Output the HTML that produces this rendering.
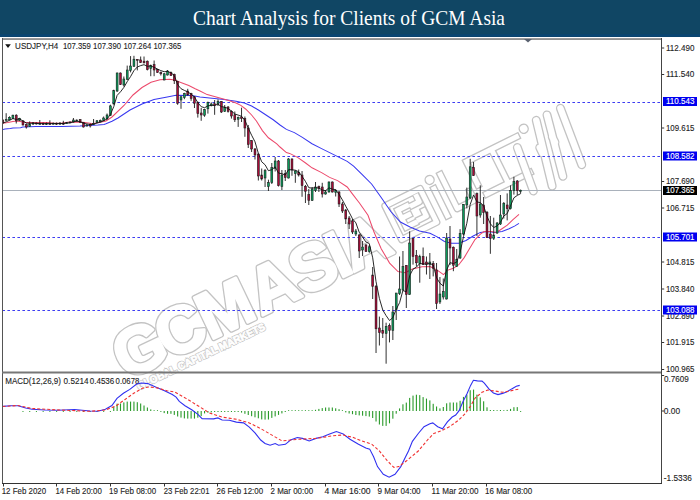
<!DOCTYPE html><html><head><meta charset="utf-8"><style>html,body{margin:0;padding:0;background:#fff;width:700px;height:500px;overflow:hidden}svg{display:block}</style></head><body>
<svg width="700" height="500" viewBox="0 0 700 500">
<rect x="0" y="0" width="700" height="500" fill="#ffffff"/>
<rect x="0" y="0" width="700" height="37" fill="#104664"/>
<rect x="0" y="34.2" width="700" height="2.6" fill="#0a4673"/>
<text x="193" y="24.6" font-family="'Liberation Serif', serif" font-size="20.6" fill="#ffffff" textLength="312" lengthAdjust="spacingAndGlyphs">Chart Analysis for Clients of GCM Asia</text>
<defs><clipPath id="cmain"><rect x="3" y="39" width="658" height="332.5"/></clipPath>
<clipPath id="cmacd"><rect x="3" y="373.5" width="658" height="109.5"/></clipPath></defs>
<g transform="translate(213.2,337.8) rotate(-25.5)" fill="none" stroke="#c3c3c3" stroke-width="1.4" stroke-linejoin="round">
<text x="-97.1 -50.4 -4.4 52.9 98.9 139.4 154.0" y="1" font-family="'Liberation Sans', sans-serif" font-weight="bold" font-size="66" stroke-width="5.2">GCMASIA</text>
<text x="-97.1 -50.4 -4.4 52.9 98.9 139.4 154.0" y="1" font-family="'Liberation Sans', sans-serif" font-weight="bold" font-size="66" stroke="#ffffff" fill="#ffffff" stroke-width="2.6">GCMASIA</text>
</g>
<g transform="translate(241.7,320.8) rotate(-25.3)" fill="none" stroke="#c3c3c3" stroke-width="1.4" stroke-linejoin="round">
<g transform="rotate(-1.1 176 0)">
<path d="M179.5,-5 H218.5 V-42.5 H179.5 Z M189,-14 H199 M189,-24 H197 M189,-33 H199 M189,-14 V-33 M204,-15 H212 V-21 M204,-31 H212 V-37 M231,-36 V-6 M243,-46 V-8 H262 V-18 M272,-46 H328 M300,-46 V-8 M276,-8 H324 M272,-46 V-20" stroke="#c3c3c3" stroke-width="7.5" stroke-linecap="square"/>
<path d="M179.5,-5 H218.5 V-42.5 H179.5 Z M189,-14 H199 M189,-24 H197 M189,-33 H199 M189,-14 V-33 M204,-15 H212 V-21 M204,-31 H212 V-37 M231,-36 V-6 M243,-46 V-8 H262 V-18 M272,-46 H328 M300,-46 V-8 M276,-8 H324 M272,-46 V-20" stroke="#ffffff" stroke-width="4.9" stroke-linecap="square"/>
<path d="M324,-36 L319,10 M353,-52 L338,14 M365,-52 L352,10 M380,-52 L374,8 M344,-20 V-26 M360,-24 V-30" stroke="#c3c3c3" stroke-width="9" stroke-linecap="round"/><path d="M324,-36 L319,10 M353,-52 L338,14 M365,-52 L352,10 M380,-52 L374,8 M344,-20 V-26 M360,-24 V-30" stroke="#ffffff" stroke-width="6.4" stroke-linecap="round"/>
<circle cx="231" cy="-46" r="4.5" stroke="#c3c3c3" stroke-width="1.4"/>
<circle cx="338" cy="-50" r="4.5" stroke="#c3c3c3" stroke-width="1.4"/>
</g>
</g>
<g transform="translate(124.9,374.5) rotate(-25.5)"><text x="6" y="20" font-family="'Liberation Sans', sans-serif" font-weight="bold" font-size="10.5" fill="#ffffff" stroke="#c3c3c3" stroke-width="2.1" textLength="141" lengthAdjust="spacingAndGlyphs">GLOBAL CAPITAL MARKETS</text><text x="6" y="20" font-family="'Liberation Sans', sans-serif" font-weight="bold" font-size="10.5" fill="#ffffff" stroke="#ffffff" stroke-width="0.7" textLength="141" lengthAdjust="spacingAndGlyphs">GLOBAL CAPITAL MARKETS</text></g>
<line x1="3" y1="102.5" x2="661" y2="102.5" stroke="#3c3cf2" stroke-width="1" stroke-dasharray="2.6,2.4" stroke-dashoffset="0.6"/>
<line x1="3" y1="156.5" x2="661" y2="156.5" stroke="#3c3cf2" stroke-width="1" stroke-dasharray="2.6,2.4" stroke-dashoffset="0.6"/>
<line x1="3" y1="237.5" x2="661" y2="237.5" stroke="#3c3cf2" stroke-width="1" stroke-dasharray="2.6,2.4" stroke-dashoffset="0.6"/>
<line x1="3" y1="310.5" x2="661" y2="310.5" stroke="#3c3cf2" stroke-width="1" stroke-dasharray="2.6,2.4" stroke-dashoffset="0.6"/>
<line x1="3" y1="190.5" x2="661" y2="190.5" stroke="#a9b1bb" stroke-width="1"/>
<g clip-path="url(#cmain)">
<polyline points="2.6,129.6 5.0,129.0 10.3,128.4 13.0,128.0 20.6,127.8 22.7,126.9 36.0,126.5 45.0,126.4 62.0,126.4 80.0,126.0 98.0,125.1 104.0,124.4 106.0,123.8 112.0,121.3 118.0,118.0 130.0,110.0 142.0,104.0 154.0,99.5 166.0,97.2 176.0,95.2 192.0,95.5 200.0,97.0 212.0,98.2 224.0,99.4 236.0,101.2 244.4,103.0 251.6,106.0 258.8,110.2 266.0,115.0 273.2,119.8 280.0,125.0 286.4,129.4 294.4,132.6 302.4,137.4 312.0,143.8 321.6,148.6 331.2,153.4 339.2,157.4 347.2,161.4 353.6,166.2 362.0,174.4 371.6,184.0 381.2,197.5 390.8,211.5 400.4,222.0 410.0,227.0 419.5,231.0 430.0,233.3 437.2,236.9 444.4,241.4 451.6,243.2 458.8,243.2 466.0,240.5 473.2,236.0 480.4,232.4 487.6,231.5 494.7,232.4 502.0,231.5 509.1,228.8 514.5,226.1 519.0,223.4" fill="none" stroke="#3838f0" stroke-width="1.05"/>
<polyline points="2.6,123.2 7.7,122.4 12.9,121.4 17.0,121.1 21.6,121.7 25.8,122.4 36.0,122.4 48.0,122.6 54.0,123.2 62.0,123.1 69.7,122.1 80.0,122.1 85.0,122.6 93.0,123.7 98.0,122.4 104.0,121.6 106.0,121.0 112.0,117.0 124.0,105.5 133.0,95.0 142.0,87.5 151.0,82.2 160.0,79.8 169.6,79.2 174.4,80.0 180.8,82.4 188.8,85.6 195.2,88.8 200.0,91.0 207.2,94.6 218.0,97.6 228.8,100.6 236.0,103.0 240.8,105.4 245.6,109.0 251.6,115.0 256.4,121.0 262.4,130.6 268.4,137.8 276.8,143.8 280.0,147.0 286.4,152.6 289.6,153.4 297.6,157.4 305.6,163.0 312.0,167.8 321.6,172.6 329.6,177.4 337.6,180.6 347.2,187.0 352.0,193.4 359.6,203.2 368.0,215.2 374.0,232.0 381.2,248.7 389.6,263.1 398.0,271.5 405.2,272.7 412.4,269.1 422.0,266.7 430.0,266.5 437.2,270.1 443.5,274.6 448.0,270.1 453.4,268.3 458.8,264.7 464.2,257.6 469.6,248.6 475.0,239.6 480.4,234.2 484.0,231.5 491.2,231.5 496.5,232.4 502.0,228.8 507.3,225.2 512.7,219.8 519.0,214.4" fill="none" stroke="#ec4a6c" stroke-width="1.05"/>
<line x1="2.80" y1="119.5" x2="2.80" y2="123.5" stroke="#1a1a1a" stroke-width="0.9"/>
<rect x="1.85" y="120.0" width="1.9" height="3.0" fill="#a80c38" stroke="#1a1a1a" stroke-width="0.55"/>
<line x1="6.16" y1="113.2" x2="6.16" y2="120.4" stroke="#1a1a1a" stroke-width="0.9"/>
<rect x="5.21" y="119.5" width="1.9" height="1.0" fill="#0a9a5a" stroke="#1a1a1a" stroke-width="0.55"/>
<line x1="9.52" y1="116.3" x2="9.52" y2="120.4" stroke="#1a1a1a" stroke-width="0.9"/>
<rect x="8.57" y="117.3" width="1.9" height="2.6" fill="#0a9a5a" stroke="#1a1a1a" stroke-width="0.55"/>
<line x1="12.89" y1="114.7" x2="12.89" y2="118.8" stroke="#1a1a1a" stroke-width="0.9"/>
<rect x="11.94" y="115.2" width="1.9" height="3.1" fill="#0a9a5a" stroke="#1a1a1a" stroke-width="0.55"/>
<line x1="16.25" y1="114.2" x2="16.25" y2="123.5" stroke="#1a1a1a" stroke-width="0.9"/>
<rect x="15.30" y="115.2" width="1.9" height="5.7" fill="#a80c38" stroke="#1a1a1a" stroke-width="0.55"/>
<line x1="19.61" y1="117.8" x2="19.61" y2="120.9" stroke="#1a1a1a" stroke-width="0.9"/>
<rect x="18.66" y="118.3" width="1.9" height="2.1" fill="#0a9a5a" stroke="#1a1a1a" stroke-width="0.55"/>
<line x1="22.97" y1="120.4" x2="22.97" y2="125.5" stroke="#1a1a1a" stroke-width="0.9"/>
<rect x="22.02" y="120.9" width="1.9" height="4.1" fill="#a80c38" stroke="#1a1a1a" stroke-width="0.55"/>
<line x1="26.34" y1="123.5" x2="26.34" y2="128.6" stroke="#1a1a1a" stroke-width="0.9"/>
<rect x="25.39" y="124.5" width="1.9" height="2.5" fill="#a80c38" stroke="#1a1a1a" stroke-width="0.55"/>
<line x1="29.70" y1="121.4" x2="29.70" y2="127.0" stroke="#1a1a1a" stroke-width="0.9"/>
<rect x="28.75" y="124.0" width="1.9" height="2.6" fill="#0a9a5a" stroke="#1a1a1a" stroke-width="0.55"/>
<line x1="33.06" y1="122.0" x2="33.06" y2="125.0" stroke="#1a1a1a" stroke-width="0.9"/>
<rect x="32.11" y="123.0" width="1.9" height="1.0" fill="#0a9a5a" stroke="#1a1a1a" stroke-width="0.55"/>
<line x1="36.42" y1="122.5" x2="36.42" y2="124.5" stroke="#1a1a1a" stroke-width="0.9"/>
<rect x="35.47" y="123.0" width="1.9" height="1.0" fill="#a80c38" stroke="#1a1a1a" stroke-width="0.55"/>
<line x1="39.79" y1="120.0" x2="39.79" y2="124.5" stroke="#1a1a1a" stroke-width="0.9"/>
<rect x="38.84" y="123.5" width="1.9" height="1.0" fill="#0a9a5a" stroke="#1a1a1a" stroke-width="0.55"/>
<line x1="43.15" y1="122.5" x2="43.15" y2="125.0" stroke="#1a1a1a" stroke-width="0.9"/>
<rect x="42.20" y="123.5" width="1.9" height="1.0" fill="#a80c38" stroke="#1a1a1a" stroke-width="0.55"/>
<line x1="46.51" y1="122.5" x2="46.51" y2="125.0" stroke="#1a1a1a" stroke-width="0.9"/>
<rect x="45.56" y="123.5" width="1.9" height="1.0" fill="#0a9a5a" stroke="#1a1a1a" stroke-width="0.55"/>
<line x1="49.87" y1="120.3" x2="49.87" y2="124.5" stroke="#1a1a1a" stroke-width="0.9"/>
<rect x="48.92" y="123.5" width="1.9" height="1.0" fill="#a80c38" stroke="#1a1a1a" stroke-width="0.55"/>
<line x1="53.24" y1="122.5" x2="53.24" y2="124.5" stroke="#1a1a1a" stroke-width="0.9"/>
<rect x="52.29" y="123.2" width="1.9" height="1.0" fill="#0a9a5a" stroke="#1a1a1a" stroke-width="0.55"/>
<line x1="56.60" y1="122.5" x2="56.60" y2="125.0" stroke="#1a1a1a" stroke-width="0.9"/>
<rect x="55.65" y="123.2" width="1.9" height="1.0" fill="#a80c38" stroke="#1a1a1a" stroke-width="0.55"/>
<line x1="59.96" y1="122.0" x2="59.96" y2="124.5" stroke="#1a1a1a" stroke-width="0.9"/>
<rect x="59.01" y="123.2" width="1.9" height="1.0" fill="#0a9a5a" stroke="#1a1a1a" stroke-width="0.55"/>
<line x1="63.32" y1="120.8" x2="63.32" y2="125.0" stroke="#1a1a1a" stroke-width="0.9"/>
<rect x="62.37" y="123.2" width="1.9" height="1.0" fill="#a80c38" stroke="#1a1a1a" stroke-width="0.55"/>
<line x1="66.69" y1="122.0" x2="66.69" y2="123.5" stroke="#1a1a1a" stroke-width="0.9"/>
<rect x="65.74" y="122.5" width="1.9" height="1.0" fill="#0a9a5a" stroke="#1a1a1a" stroke-width="0.55"/>
<line x1="70.05" y1="121.5" x2="70.05" y2="123.0" stroke="#1a1a1a" stroke-width="0.9"/>
<rect x="69.10" y="122.0" width="1.9" height="1.0" fill="#0a9a5a" stroke="#1a1a1a" stroke-width="0.55"/>
<line x1="73.41" y1="118.0" x2="73.41" y2="122.5" stroke="#1a1a1a" stroke-width="0.9"/>
<rect x="72.46" y="120.0" width="1.9" height="2.0" fill="#0a9a5a" stroke="#1a1a1a" stroke-width="0.55"/>
<line x1="76.77" y1="119.5" x2="76.77" y2="121.5" stroke="#1a1a1a" stroke-width="0.9"/>
<rect x="75.82" y="120.0" width="1.9" height="1.0" fill="#0a9a5a" stroke="#1a1a1a" stroke-width="0.55"/>
<line x1="80.14" y1="119.3" x2="80.14" y2="122.8" stroke="#1a1a1a" stroke-width="0.9"/>
<rect x="79.19" y="119.5" width="1.9" height="2.9" fill="#a80c38" stroke="#1a1a1a" stroke-width="0.55"/>
<line x1="83.50" y1="122.0" x2="83.50" y2="127.5" stroke="#1a1a1a" stroke-width="0.9"/>
<rect x="82.55" y="122.4" width="1.9" height="4.6" fill="#a80c38" stroke="#1a1a1a" stroke-width="0.55"/>
<line x1="86.86" y1="124.0" x2="86.86" y2="126.5" stroke="#1a1a1a" stroke-width="0.9"/>
<rect x="85.91" y="125.0" width="1.9" height="1.0" fill="#0a9a5a" stroke="#1a1a1a" stroke-width="0.55"/>
<line x1="90.22" y1="123.4" x2="90.22" y2="127.5" stroke="#1a1a1a" stroke-width="0.9"/>
<rect x="89.27" y="124.5" width="1.9" height="1.5" fill="#a80c38" stroke="#1a1a1a" stroke-width="0.55"/>
<line x1="93.59" y1="119.0" x2="93.59" y2="124.6" stroke="#1a1a1a" stroke-width="0.9"/>
<rect x="92.64" y="123.5" width="1.9" height="1.0" fill="#0a9a5a" stroke="#1a1a1a" stroke-width="0.55"/>
<line x1="96.95" y1="120.0" x2="96.95" y2="122.8" stroke="#1a1a1a" stroke-width="0.9"/>
<rect x="96.00" y="120.8" width="1.9" height="1.6" fill="#0a9a5a" stroke="#1a1a1a" stroke-width="0.55"/>
<line x1="100.31" y1="119.5" x2="100.31" y2="122.2" stroke="#1a1a1a" stroke-width="0.9"/>
<rect x="99.36" y="120.5" width="1.9" height="1.3" fill="#0a9a5a" stroke="#1a1a1a" stroke-width="0.55"/>
<line x1="103.67" y1="116.5" x2="103.67" y2="121.0" stroke="#1a1a1a" stroke-width="0.9"/>
<rect x="102.72" y="118.0" width="1.9" height="2.5" fill="#0a9a5a" stroke="#1a1a1a" stroke-width="0.55"/>
<line x1="107.04" y1="113.5" x2="107.04" y2="119.5" stroke="#1a1a1a" stroke-width="0.9"/>
<rect x="106.09" y="115.0" width="1.9" height="4.0" fill="#0a9a5a" stroke="#1a1a1a" stroke-width="0.55"/>
<line x1="110.40" y1="104.7" x2="110.40" y2="115.8" stroke="#1a1a1a" stroke-width="0.9"/>
<rect x="109.45" y="105.9" width="1.9" height="9.5" fill="#0a9a5a" stroke="#1a1a1a" stroke-width="0.55"/>
<line x1="113.76" y1="89.7" x2="113.76" y2="104.5" stroke="#1a1a1a" stroke-width="0.9"/>
<rect x="112.81" y="90.5" width="1.9" height="13.5" fill="#0a9a5a" stroke="#1a1a1a" stroke-width="0.55"/>
<line x1="117.12" y1="72.5" x2="117.12" y2="92.0" stroke="#1a1a1a" stroke-width="0.9"/>
<rect x="116.17" y="73.0" width="1.9" height="18.0" fill="#0a9a5a" stroke="#1a1a1a" stroke-width="0.55"/>
<line x1="120.49" y1="72.5" x2="120.49" y2="85.0" stroke="#1a1a1a" stroke-width="0.9"/>
<rect x="119.54" y="73.0" width="1.9" height="11.6" fill="#a80c38" stroke="#1a1a1a" stroke-width="0.55"/>
<line x1="123.85" y1="76.5" x2="123.85" y2="86.5" stroke="#1a1a1a" stroke-width="0.9"/>
<rect x="122.90" y="79.0" width="1.9" height="6.0" fill="#0a9a5a" stroke="#1a1a1a" stroke-width="0.55"/>
<line x1="127.21" y1="65.6" x2="127.21" y2="80.0" stroke="#1a1a1a" stroke-width="0.9"/>
<rect x="126.26" y="70.0" width="1.9" height="9.3" fill="#0a9a5a" stroke="#1a1a1a" stroke-width="0.55"/>
<line x1="130.57" y1="56.1" x2="130.57" y2="72.4" stroke="#1a1a1a" stroke-width="0.9"/>
<rect x="129.62" y="66.0" width="1.9" height="4.4" fill="#0a9a5a" stroke="#1a1a1a" stroke-width="0.55"/>
<line x1="133.94" y1="55.8" x2="133.94" y2="66.8" stroke="#1a1a1a" stroke-width="0.9"/>
<rect x="132.99" y="59.2" width="1.9" height="7.1" fill="#0a9a5a" stroke="#1a1a1a" stroke-width="0.55"/>
<line x1="137.30" y1="59.2" x2="137.30" y2="70.4" stroke="#1a1a1a" stroke-width="0.9"/>
<rect x="136.35" y="59.3" width="1.9" height="1.0" fill="#a80c38" stroke="#1a1a1a" stroke-width="0.55"/>
<line x1="140.66" y1="56.5" x2="140.66" y2="63.0" stroke="#1a1a1a" stroke-width="0.9"/>
<rect x="139.71" y="59.9" width="1.9" height="2.7" fill="#a80c38" stroke="#1a1a1a" stroke-width="0.55"/>
<line x1="144.03" y1="56.5" x2="144.03" y2="63.3" stroke="#1a1a1a" stroke-width="0.9"/>
<rect x="143.08" y="61.2" width="1.9" height="1.7" fill="#a80c38" stroke="#1a1a1a" stroke-width="0.55"/>
<line x1="147.39" y1="60.5" x2="147.39" y2="70.4" stroke="#1a1a1a" stroke-width="0.9"/>
<rect x="146.44" y="61.2" width="1.9" height="8.5" fill="#a80c38" stroke="#1a1a1a" stroke-width="0.55"/>
<line x1="150.75" y1="64.6" x2="150.75" y2="76.2" stroke="#1a1a1a" stroke-width="0.9"/>
<rect x="149.80" y="65.3" width="1.9" height="3.4" fill="#0a9a5a" stroke="#1a1a1a" stroke-width="0.55"/>
<line x1="154.11" y1="60.5" x2="154.11" y2="76.2" stroke="#1a1a1a" stroke-width="0.9"/>
<rect x="153.16" y="64.6" width="1.9" height="5.4" fill="#a80c38" stroke="#1a1a1a" stroke-width="0.55"/>
<line x1="157.47" y1="69.0" x2="157.47" y2="72.8" stroke="#1a1a1a" stroke-width="0.9"/>
<rect x="156.53" y="69.7" width="1.9" height="2.7" fill="#a80c38" stroke="#1a1a1a" stroke-width="0.55"/>
<line x1="160.84" y1="71.5" x2="160.84" y2="75.5" stroke="#1a1a1a" stroke-width="0.9"/>
<rect x="159.89" y="72.4" width="1.9" height="1.4" fill="#a80c38" stroke="#1a1a1a" stroke-width="0.55"/>
<line x1="164.20" y1="73.0" x2="164.20" y2="80.3" stroke="#1a1a1a" stroke-width="0.9"/>
<rect x="163.25" y="73.8" width="1.9" height="6.2" fill="#0a9a5a" stroke="#1a1a1a" stroke-width="0.55"/>
<line x1="167.56" y1="70.0" x2="167.56" y2="75.5" stroke="#1a1a1a" stroke-width="0.9"/>
<rect x="166.61" y="71.0" width="1.9" height="4.0" fill="#0a9a5a" stroke="#1a1a1a" stroke-width="0.55"/>
<line x1="170.93" y1="71.5" x2="170.93" y2="76.0" stroke="#1a1a1a" stroke-width="0.9"/>
<rect x="169.98" y="72.5" width="1.9" height="3.0" fill="#a80c38" stroke="#1a1a1a" stroke-width="0.55"/>
<line x1="174.29" y1="73.6" x2="174.29" y2="84.0" stroke="#1a1a1a" stroke-width="0.9"/>
<rect x="173.34" y="74.4" width="1.9" height="6.4" fill="#a80c38" stroke="#1a1a1a" stroke-width="0.55"/>
<line x1="177.65" y1="80.8" x2="177.65" y2="104.8" stroke="#1a1a1a" stroke-width="0.9"/>
<rect x="176.70" y="81.6" width="1.9" height="21.6" fill="#a80c38" stroke="#1a1a1a" stroke-width="0.55"/>
<line x1="181.01" y1="96.0" x2="181.01" y2="108.8" stroke="#1a1a1a" stroke-width="0.9"/>
<rect x="180.06" y="96.8" width="1.9" height="3.2" fill="#0a9a5a" stroke="#1a1a1a" stroke-width="0.55"/>
<line x1="184.38" y1="92.8" x2="184.38" y2="99.2" stroke="#1a1a1a" stroke-width="0.9"/>
<rect x="183.43" y="93.6" width="1.9" height="4.0" fill="#0a9a5a" stroke="#1a1a1a" stroke-width="0.55"/>
<line x1="187.74" y1="88.8" x2="187.74" y2="95.5" stroke="#1a1a1a" stroke-width="0.9"/>
<rect x="186.79" y="91.0" width="1.9" height="4.0" fill="#a80c38" stroke="#1a1a1a" stroke-width="0.55"/>
<line x1="191.10" y1="92.8" x2="191.10" y2="100.8" stroke="#1a1a1a" stroke-width="0.9"/>
<rect x="190.15" y="93.6" width="1.9" height="4.8" fill="#a80c38" stroke="#1a1a1a" stroke-width="0.55"/>
<line x1="194.46" y1="96.0" x2="194.46" y2="108.0" stroke="#1a1a1a" stroke-width="0.9"/>
<rect x="193.51" y="96.8" width="1.9" height="6.4" fill="#a80c38" stroke="#1a1a1a" stroke-width="0.55"/>
<line x1="197.82" y1="101.6" x2="197.82" y2="117.6" stroke="#1a1a1a" stroke-width="0.9"/>
<rect x="196.88" y="102.4" width="1.9" height="11.2" fill="#a80c38" stroke="#1a1a1a" stroke-width="0.55"/>
<line x1="201.19" y1="108.0" x2="201.19" y2="120.8" stroke="#1a1a1a" stroke-width="0.9"/>
<rect x="200.24" y="113.0" width="1.9" height="2.0" fill="#a80c38" stroke="#1a1a1a" stroke-width="0.55"/>
<line x1="204.55" y1="108.8" x2="204.55" y2="116.8" stroke="#1a1a1a" stroke-width="0.9"/>
<rect x="203.60" y="109.6" width="1.9" height="5.6" fill="#0a9a5a" stroke="#1a1a1a" stroke-width="0.55"/>
<line x1="207.91" y1="101.6" x2="207.91" y2="113.6" stroke="#1a1a1a" stroke-width="0.9"/>
<rect x="206.96" y="102.4" width="1.9" height="6.4" fill="#0a9a5a" stroke="#1a1a1a" stroke-width="0.55"/>
<line x1="211.28" y1="102.4" x2="211.28" y2="106.4" stroke="#1a1a1a" stroke-width="0.9"/>
<rect x="210.33" y="104.0" width="1.9" height="1.6" fill="#0a9a5a" stroke="#1a1a1a" stroke-width="0.55"/>
<line x1="214.64" y1="100.0" x2="214.64" y2="114.8" stroke="#1a1a1a" stroke-width="0.9"/>
<rect x="213.69" y="103.8" width="1.9" height="1.7" fill="#a80c38" stroke="#1a1a1a" stroke-width="0.55"/>
<line x1="218.00" y1="99.4" x2="218.00" y2="106.0" stroke="#1a1a1a" stroke-width="0.9"/>
<rect x="217.05" y="101.6" width="1.9" height="2.2" fill="#0a9a5a" stroke="#1a1a1a" stroke-width="0.55"/>
<line x1="221.36" y1="101.0" x2="221.36" y2="113.0" stroke="#1a1a1a" stroke-width="0.9"/>
<rect x="220.41" y="101.6" width="1.9" height="10.4" fill="#a80c38" stroke="#1a1a1a" stroke-width="0.55"/>
<line x1="224.72" y1="105.0" x2="224.72" y2="112.0" stroke="#1a1a1a" stroke-width="0.9"/>
<rect x="223.78" y="107.7" width="1.9" height="3.8" fill="#0a9a5a" stroke="#1a1a1a" stroke-width="0.55"/>
<line x1="228.09" y1="106.0" x2="228.09" y2="112.6" stroke="#1a1a1a" stroke-width="0.9"/>
<rect x="227.14" y="107.0" width="1.9" height="4.5" fill="#a80c38" stroke="#1a1a1a" stroke-width="0.55"/>
<line x1="231.45" y1="110.4" x2="231.45" y2="118.6" stroke="#1a1a1a" stroke-width="0.9"/>
<rect x="230.50" y="111.5" width="1.9" height="4.5" fill="#a80c38" stroke="#1a1a1a" stroke-width="0.55"/>
<line x1="234.81" y1="111.5" x2="234.81" y2="122.0" stroke="#1a1a1a" stroke-width="0.9"/>
<rect x="233.86" y="114.8" width="1.9" height="5.0" fill="#a80c38" stroke="#1a1a1a" stroke-width="0.55"/>
<line x1="238.18" y1="116.5" x2="238.18" y2="126.9" stroke="#1a1a1a" stroke-width="0.9"/>
<rect x="237.23" y="117.5" width="1.9" height="1.7" fill="#0a9a5a" stroke="#1a1a1a" stroke-width="0.55"/>
<line x1="241.54" y1="107.7" x2="241.54" y2="122.0" stroke="#1a1a1a" stroke-width="0.9"/>
<rect x="240.59" y="117.0" width="1.9" height="1.6" fill="#a80c38" stroke="#1a1a1a" stroke-width="0.55"/>
<line x1="244.90" y1="116.5" x2="244.90" y2="136.8" stroke="#1a1a1a" stroke-width="0.9"/>
<rect x="243.95" y="118.6" width="1.9" height="9.4" fill="#a80c38" stroke="#1a1a1a" stroke-width="0.55"/>
<line x1="248.26" y1="125.0" x2="248.26" y2="148.0" stroke="#1a1a1a" stroke-width="0.9"/>
<rect x="247.31" y="128.0" width="1.9" height="16.5" fill="#a80c38" stroke="#1a1a1a" stroke-width="0.55"/>
<line x1="251.62" y1="140.0" x2="251.62" y2="152.0" stroke="#1a1a1a" stroke-width="0.9"/>
<rect x="250.68" y="140.7" width="1.9" height="8.3" fill="#a80c38" stroke="#1a1a1a" stroke-width="0.55"/>
<line x1="254.99" y1="148.0" x2="254.99" y2="159.5" stroke="#1a1a1a" stroke-width="0.9"/>
<rect x="254.04" y="149.0" width="1.9" height="6.0" fill="#a80c38" stroke="#1a1a1a" stroke-width="0.55"/>
<line x1="258.35" y1="153.5" x2="258.35" y2="180.5" stroke="#1a1a1a" stroke-width="0.9"/>
<rect x="257.40" y="154.0" width="1.9" height="22.0" fill="#a80c38" stroke="#1a1a1a" stroke-width="0.55"/>
<line x1="261.71" y1="168.5" x2="261.71" y2="180.5" stroke="#1a1a1a" stroke-width="0.9"/>
<rect x="260.76" y="175.0" width="1.9" height="4.0" fill="#a80c38" stroke="#1a1a1a" stroke-width="0.55"/>
<line x1="265.07" y1="169.0" x2="265.07" y2="187.0" stroke="#1a1a1a" stroke-width="0.9"/>
<rect x="264.12" y="170.7" width="1.9" height="7.3" fill="#0a9a5a" stroke="#1a1a1a" stroke-width="0.55"/>
<line x1="268.44" y1="179.7" x2="268.44" y2="191.0" stroke="#1a1a1a" stroke-width="0.9"/>
<rect x="267.49" y="182.7" width="1.9" height="3.8" fill="#0a9a5a" stroke="#1a1a1a" stroke-width="0.55"/>
<line x1="271.80" y1="163.0" x2="271.80" y2="184.0" stroke="#1a1a1a" stroke-width="0.9"/>
<rect x="270.85" y="167.7" width="1.9" height="15.0" fill="#0a9a5a" stroke="#1a1a1a" stroke-width="0.55"/>
<line x1="275.16" y1="157.0" x2="275.16" y2="171.5" stroke="#1a1a1a" stroke-width="0.9"/>
<rect x="274.21" y="161.0" width="1.9" height="7.5" fill="#0a9a5a" stroke="#1a1a1a" stroke-width="0.55"/>
<line x1="278.52" y1="160.0" x2="278.52" y2="186.5" stroke="#1a1a1a" stroke-width="0.9"/>
<rect x="277.57" y="161.0" width="1.9" height="24.7" fill="#a80c38" stroke="#1a1a1a" stroke-width="0.55"/>
<line x1="281.89" y1="170.0" x2="281.89" y2="190.0" stroke="#1a1a1a" stroke-width="0.9"/>
<rect x="280.94" y="175.0" width="1.9" height="11.5" fill="#0a9a5a" stroke="#1a1a1a" stroke-width="0.55"/>
<line x1="285.25" y1="170.0" x2="285.25" y2="181.0" stroke="#1a1a1a" stroke-width="0.9"/>
<rect x="284.30" y="173.7" width="1.9" height="3.8" fill="#a80c38" stroke="#1a1a1a" stroke-width="0.55"/>
<line x1="288.61" y1="158.0" x2="288.61" y2="178.5" stroke="#1a1a1a" stroke-width="0.9"/>
<rect x="287.66" y="159.0" width="1.9" height="19.0" fill="#0a9a5a" stroke="#1a1a1a" stroke-width="0.55"/>
<line x1="291.98" y1="158.3" x2="291.98" y2="175.8" stroke="#1a1a1a" stroke-width="0.9"/>
<rect x="291.03" y="159.0" width="1.9" height="11.0" fill="#a80c38" stroke="#1a1a1a" stroke-width="0.55"/>
<line x1="295.34" y1="170.2" x2="295.34" y2="182.8" stroke="#1a1a1a" stroke-width="0.9"/>
<rect x="294.39" y="171.0" width="1.9" height="2.7" fill="#0a9a5a" stroke="#1a1a1a" stroke-width="0.55"/>
<line x1="298.70" y1="169.5" x2="298.70" y2="176.5" stroke="#1a1a1a" stroke-width="0.9"/>
<rect x="297.75" y="172.3" width="1.9" height="2.7" fill="#a80c38" stroke="#1a1a1a" stroke-width="0.55"/>
<line x1="302.06" y1="171.0" x2="302.06" y2="196.8" stroke="#1a1a1a" stroke-width="0.9"/>
<rect x="301.11" y="175.0" width="1.9" height="10.6" fill="#a80c38" stroke="#1a1a1a" stroke-width="0.55"/>
<line x1="305.43" y1="185.0" x2="305.43" y2="203.0" stroke="#1a1a1a" stroke-width="0.9"/>
<rect x="304.48" y="186.3" width="1.9" height="4.9" fill="#a80c38" stroke="#1a1a1a" stroke-width="0.55"/>
<line x1="308.79" y1="189.0" x2="308.79" y2="205.0" stroke="#1a1a1a" stroke-width="0.9"/>
<rect x="307.84" y="194.7" width="1.9" height="5.6" fill="#a80c38" stroke="#1a1a1a" stroke-width="0.55"/>
<line x1="312.15" y1="187.0" x2="312.15" y2="201.0" stroke="#1a1a1a" stroke-width="0.9"/>
<rect x="311.20" y="189.0" width="1.9" height="11.3" fill="#0a9a5a" stroke="#1a1a1a" stroke-width="0.55"/>
<line x1="315.51" y1="182.0" x2="315.51" y2="192.0" stroke="#1a1a1a" stroke-width="0.9"/>
<rect x="314.56" y="187.0" width="1.9" height="3.5" fill="#0a9a5a" stroke="#1a1a1a" stroke-width="0.55"/>
<line x1="318.88" y1="185.6" x2="318.88" y2="192.0" stroke="#1a1a1a" stroke-width="0.9"/>
<rect x="317.93" y="186.5" width="1.9" height="2.0" fill="#a80c38" stroke="#1a1a1a" stroke-width="0.55"/>
<line x1="322.24" y1="182.8" x2="322.24" y2="197.5" stroke="#1a1a1a" stroke-width="0.9"/>
<rect x="321.29" y="187.0" width="1.9" height="7.0" fill="#a80c38" stroke="#1a1a1a" stroke-width="0.55"/>
<line x1="325.60" y1="190.0" x2="325.60" y2="194.7" stroke="#1a1a1a" stroke-width="0.9"/>
<rect x="324.65" y="192.0" width="1.9" height="2.0" fill="#0a9a5a" stroke="#1a1a1a" stroke-width="0.55"/>
<line x1="328.96" y1="181.4" x2="328.96" y2="192.6" stroke="#1a1a1a" stroke-width="0.9"/>
<rect x="328.01" y="182.0" width="1.9" height="10.0" fill="#0a9a5a" stroke="#1a1a1a" stroke-width="0.55"/>
<line x1="332.32" y1="181.4" x2="332.32" y2="192.6" stroke="#1a1a1a" stroke-width="0.9"/>
<rect x="331.38" y="182.0" width="1.9" height="10.0" fill="#a80c38" stroke="#1a1a1a" stroke-width="0.55"/>
<line x1="335.69" y1="189.5" x2="335.69" y2="196.5" stroke="#1a1a1a" stroke-width="0.9"/>
<rect x="334.74" y="190.5" width="1.9" height="2.0" fill="#0a9a5a" stroke="#1a1a1a" stroke-width="0.55"/>
<line x1="339.05" y1="191.0" x2="339.05" y2="207.0" stroke="#1a1a1a" stroke-width="0.9"/>
<rect x="338.10" y="192.0" width="1.9" height="12.0" fill="#a80c38" stroke="#1a1a1a" stroke-width="0.55"/>
<line x1="342.41" y1="202.0" x2="342.41" y2="213.0" stroke="#1a1a1a" stroke-width="0.9"/>
<rect x="341.46" y="204.0" width="1.9" height="7.0" fill="#a80c38" stroke="#1a1a1a" stroke-width="0.55"/>
<line x1="345.77" y1="209.0" x2="345.77" y2="224.0" stroke="#1a1a1a" stroke-width="0.9"/>
<rect x="344.82" y="210.0" width="1.9" height="9.0" fill="#a80c38" stroke="#1a1a1a" stroke-width="0.55"/>
<line x1="349.14" y1="216.0" x2="349.14" y2="229.0" stroke="#1a1a1a" stroke-width="0.9"/>
<rect x="348.19" y="218.0" width="1.9" height="6.0" fill="#a80c38" stroke="#1a1a1a" stroke-width="0.55"/>
<line x1="352.50" y1="219.0" x2="352.50" y2="234.0" stroke="#1a1a1a" stroke-width="0.9"/>
<rect x="351.55" y="221.0" width="1.9" height="11.0" fill="#a80c38" stroke="#1a1a1a" stroke-width="0.55"/>
<line x1="355.86" y1="229.0" x2="355.86" y2="236.0" stroke="#1a1a1a" stroke-width="0.9"/>
<rect x="354.91" y="231.0" width="1.9" height="3.0" fill="#0a9a5a" stroke="#1a1a1a" stroke-width="0.55"/>
<line x1="359.22" y1="234.0" x2="359.22" y2="258.0" stroke="#1a1a1a" stroke-width="0.9"/>
<rect x="358.27" y="235.0" width="1.9" height="16.0" fill="#a80c38" stroke="#1a1a1a" stroke-width="0.55"/>
<line x1="362.59" y1="241.0" x2="362.59" y2="256.0" stroke="#1a1a1a" stroke-width="0.9"/>
<rect x="361.64" y="247.0" width="1.9" height="3.0" fill="#0a9a5a" stroke="#1a1a1a" stroke-width="0.55"/>
<line x1="365.95" y1="244.0" x2="365.95" y2="252.0" stroke="#1a1a1a" stroke-width="0.9"/>
<rect x="365.00" y="245.0" width="1.9" height="6.5" fill="#a80c38" stroke="#1a1a1a" stroke-width="0.55"/>
<line x1="369.31" y1="245.0" x2="369.31" y2="252.8" stroke="#1a1a1a" stroke-width="0.9"/>
<rect x="368.36" y="246.8" width="1.9" height="4.8" fill="#0a9a5a" stroke="#1a1a1a" stroke-width="0.55"/>
<line x1="372.68" y1="267.0" x2="372.68" y2="299.0" stroke="#1a1a1a" stroke-width="0.9"/>
<rect x="371.73" y="275.0" width="1.9" height="11.4" fill="#a80c38" stroke="#1a1a1a" stroke-width="0.55"/>
<line x1="376.04" y1="285.0" x2="376.04" y2="353.0" stroke="#1a1a1a" stroke-width="0.9"/>
<rect x="375.09" y="286.4" width="1.9" height="42.4" fill="#a80c38" stroke="#1a1a1a" stroke-width="0.55"/>
<line x1="379.40" y1="316.6" x2="379.40" y2="345.5" stroke="#1a1a1a" stroke-width="0.9"/>
<rect x="378.45" y="328.0" width="1.9" height="4.5" fill="#a80c38" stroke="#1a1a1a" stroke-width="0.55"/>
<line x1="382.76" y1="318.0" x2="382.76" y2="338.0" stroke="#1a1a1a" stroke-width="0.9"/>
<rect x="381.81" y="330.3" width="1.9" height="3.0" fill="#a80c38" stroke="#1a1a1a" stroke-width="0.55"/>
<line x1="386.12" y1="322.7" x2="386.12" y2="363.7" stroke="#1a1a1a" stroke-width="0.9"/>
<rect x="385.18" y="326.5" width="1.9" height="6.8" fill="#0a9a5a" stroke="#1a1a1a" stroke-width="0.55"/>
<line x1="389.49" y1="323.4" x2="389.49" y2="342.4" stroke="#1a1a1a" stroke-width="0.9"/>
<rect x="388.54" y="325.7" width="1.9" height="4.6" fill="#a80c38" stroke="#1a1a1a" stroke-width="0.55"/>
<line x1="392.85" y1="306.0" x2="392.85" y2="340.0" stroke="#1a1a1a" stroke-width="0.9"/>
<rect x="391.90" y="312.0" width="1.9" height="18.3" fill="#0a9a5a" stroke="#1a1a1a" stroke-width="0.55"/>
<line x1="396.21" y1="293.0" x2="396.21" y2="320.0" stroke="#1a1a1a" stroke-width="0.9"/>
<rect x="395.26" y="293.0" width="1.9" height="16.7" fill="#0a9a5a" stroke="#1a1a1a" stroke-width="0.55"/>
<line x1="399.57" y1="256.5" x2="399.57" y2="295.0" stroke="#1a1a1a" stroke-width="0.9"/>
<rect x="398.62" y="289.0" width="1.9" height="4.5" fill="#0a9a5a" stroke="#1a1a1a" stroke-width="0.55"/>
<line x1="402.94" y1="251.0" x2="402.94" y2="290.8" stroke="#1a1a1a" stroke-width="0.9"/>
<rect x="401.99" y="266.4" width="1.9" height="23.6" fill="#0a9a5a" stroke="#1a1a1a" stroke-width="0.55"/>
<line x1="406.30" y1="265.0" x2="406.30" y2="308.0" stroke="#1a1a1a" stroke-width="0.9"/>
<rect x="405.35" y="265.5" width="1.9" height="28.9" fill="#a80c38" stroke="#1a1a1a" stroke-width="0.55"/>
<line x1="409.66" y1="231.3" x2="409.66" y2="294.8" stroke="#1a1a1a" stroke-width="0.9"/>
<rect x="408.71" y="243.0" width="1.9" height="51.4" fill="#0a9a5a" stroke="#1a1a1a" stroke-width="0.55"/>
<line x1="413.02" y1="238.0" x2="413.02" y2="264.6" stroke="#1a1a1a" stroke-width="0.9"/>
<rect x="412.07" y="238.5" width="1.9" height="18.0" fill="#a80c38" stroke="#1a1a1a" stroke-width="0.55"/>
<line x1="416.39" y1="250.0" x2="416.39" y2="266.4" stroke="#1a1a1a" stroke-width="0.9"/>
<rect x="415.44" y="255.6" width="1.9" height="7.2" fill="#a80c38" stroke="#1a1a1a" stroke-width="0.55"/>
<line x1="419.75" y1="254.7" x2="419.75" y2="282.7" stroke="#1a1a1a" stroke-width="0.9"/>
<rect x="418.80" y="256.5" width="1.9" height="7.2" fill="#0a9a5a" stroke="#1a1a1a" stroke-width="0.55"/>
<line x1="423.11" y1="247.5" x2="423.11" y2="265.0" stroke="#1a1a1a" stroke-width="0.9"/>
<rect x="422.16" y="256.5" width="1.9" height="8.1" fill="#a80c38" stroke="#1a1a1a" stroke-width="0.55"/>
<line x1="426.47" y1="256.5" x2="426.47" y2="274.5" stroke="#1a1a1a" stroke-width="0.9"/>
<rect x="425.52" y="262.0" width="1.9" height="2.6" fill="#a80c38" stroke="#1a1a1a" stroke-width="0.55"/>
<line x1="429.84" y1="253.0" x2="429.84" y2="279.0" stroke="#1a1a1a" stroke-width="0.9"/>
<rect x="428.89" y="262.0" width="1.9" height="2.6" fill="#0a9a5a" stroke="#1a1a1a" stroke-width="0.55"/>
<line x1="433.20" y1="261.0" x2="433.20" y2="276.4" stroke="#1a1a1a" stroke-width="0.9"/>
<rect x="432.25" y="263.7" width="1.9" height="4.5" fill="#a80c38" stroke="#1a1a1a" stroke-width="0.55"/>
<line x1="436.56" y1="263.0" x2="436.56" y2="309.0" stroke="#1a1a1a" stroke-width="0.9"/>
<rect x="435.61" y="270.0" width="1.9" height="33.4" fill="#a80c38" stroke="#1a1a1a" stroke-width="0.55"/>
<line x1="439.93" y1="277.0" x2="439.93" y2="304.0" stroke="#1a1a1a" stroke-width="0.9"/>
<rect x="438.98" y="294.0" width="1.9" height="8.0" fill="#0a9a5a" stroke="#1a1a1a" stroke-width="0.55"/>
<line x1="443.29" y1="278.5" x2="443.29" y2="299.5" stroke="#1a1a1a" stroke-width="0.9"/>
<rect x="442.34" y="291.5" width="1.9" height="5.5" fill="#0a9a5a" stroke="#1a1a1a" stroke-width="0.55"/>
<line x1="446.65" y1="233.0" x2="446.65" y2="299.5" stroke="#1a1a1a" stroke-width="0.9"/>
<rect x="445.70" y="238.0" width="1.9" height="61.0" fill="#0a9a5a" stroke="#1a1a1a" stroke-width="0.55"/>
<line x1="450.01" y1="226.0" x2="450.01" y2="265.0" stroke="#1a1a1a" stroke-width="0.9"/>
<rect x="449.06" y="239.0" width="1.9" height="9.0" fill="#a80c38" stroke="#1a1a1a" stroke-width="0.55"/>
<line x1="453.38" y1="246.5" x2="453.38" y2="271.2" stroke="#1a1a1a" stroke-width="0.9"/>
<rect x="452.43" y="247.2" width="1.9" height="18.0" fill="#a80c38" stroke="#1a1a1a" stroke-width="0.55"/>
<line x1="456.74" y1="249.0" x2="456.74" y2="267.0" stroke="#1a1a1a" stroke-width="0.9"/>
<rect x="455.79" y="259.2" width="1.9" height="7.2" fill="#0a9a5a" stroke="#1a1a1a" stroke-width="0.55"/>
<line x1="460.10" y1="229.2" x2="460.10" y2="259.0" stroke="#1a1a1a" stroke-width="0.9"/>
<rect x="459.15" y="233.4" width="1.9" height="24.6" fill="#0a9a5a" stroke="#1a1a1a" stroke-width="0.55"/>
<line x1="463.46" y1="204.0" x2="463.46" y2="235.0" stroke="#1a1a1a" stroke-width="0.9"/>
<rect x="462.51" y="204.4" width="1.9" height="29.6" fill="#0a9a5a" stroke="#1a1a1a" stroke-width="0.55"/>
<line x1="466.82" y1="187.6" x2="466.82" y2="208.4" stroke="#1a1a1a" stroke-width="0.9"/>
<rect x="465.88" y="197.0" width="1.9" height="8.0" fill="#0a9a5a" stroke="#1a1a1a" stroke-width="0.55"/>
<line x1="470.19" y1="158.8" x2="470.19" y2="199.0" stroke="#1a1a1a" stroke-width="0.9"/>
<rect x="469.24" y="166.8" width="1.9" height="31.2" fill="#0a9a5a" stroke="#1a1a1a" stroke-width="0.55"/>
<line x1="473.55" y1="162.0" x2="473.55" y2="176.0" stroke="#1a1a1a" stroke-width="0.9"/>
<rect x="472.60" y="167.6" width="1.9" height="8.0" fill="#a80c38" stroke="#1a1a1a" stroke-width="0.55"/>
<line x1="476.91" y1="192.5" x2="476.91" y2="236.0" stroke="#1a1a1a" stroke-width="0.9"/>
<rect x="475.96" y="193.7" width="1.9" height="22.3" fill="#a80c38" stroke="#1a1a1a" stroke-width="0.55"/>
<line x1="480.27" y1="185.3" x2="480.27" y2="217.7" stroke="#1a1a1a" stroke-width="0.9"/>
<rect x="479.32" y="204.0" width="1.9" height="11.0" fill="#0a9a5a" stroke="#1a1a1a" stroke-width="0.55"/>
<line x1="483.64" y1="197.0" x2="483.64" y2="224.0" stroke="#1a1a1a" stroke-width="0.9"/>
<rect x="482.69" y="205.0" width="1.9" height="7.3" fill="#a80c38" stroke="#1a1a1a" stroke-width="0.55"/>
<line x1="487.00" y1="211.0" x2="487.00" y2="238.0" stroke="#1a1a1a" stroke-width="0.9"/>
<rect x="486.05" y="212.3" width="1.9" height="25.3" fill="#a80c38" stroke="#1a1a1a" stroke-width="0.55"/>
<line x1="490.36" y1="216.0" x2="490.36" y2="253.8" stroke="#1a1a1a" stroke-width="0.9"/>
<rect x="489.41" y="234.0" width="1.9" height="4.5" fill="#a80c38" stroke="#1a1a1a" stroke-width="0.55"/>
<line x1="493.72" y1="217.7" x2="493.72" y2="240.0" stroke="#1a1a1a" stroke-width="0.9"/>
<rect x="492.77" y="235.0" width="1.9" height="3.5" fill="#0a9a5a" stroke="#1a1a1a" stroke-width="0.55"/>
<line x1="497.09" y1="222.0" x2="497.09" y2="234.0" stroke="#1a1a1a" stroke-width="0.9"/>
<rect x="496.14" y="223.0" width="1.9" height="10.0" fill="#0a9a5a" stroke="#1a1a1a" stroke-width="0.55"/>
<line x1="500.45" y1="195.0" x2="500.45" y2="225.0" stroke="#1a1a1a" stroke-width="0.9"/>
<rect x="499.50" y="215.0" width="1.9" height="9.0" fill="#0a9a5a" stroke="#1a1a1a" stroke-width="0.55"/>
<line x1="503.81" y1="202.0" x2="503.81" y2="218.6" stroke="#1a1a1a" stroke-width="0.9"/>
<rect x="502.86" y="203.3" width="1.9" height="10.7" fill="#0a9a5a" stroke="#1a1a1a" stroke-width="0.55"/>
<line x1="507.18" y1="193.4" x2="507.18" y2="220.4" stroke="#1a1a1a" stroke-width="0.9"/>
<rect x="506.23" y="205.0" width="1.9" height="3.7" fill="#a80c38" stroke="#1a1a1a" stroke-width="0.55"/>
<line x1="510.54" y1="185.3" x2="510.54" y2="209.5" stroke="#1a1a1a" stroke-width="0.9"/>
<rect x="509.59" y="190.7" width="1.9" height="18.0" fill="#0a9a5a" stroke="#1a1a1a" stroke-width="0.55"/>
<line x1="513.90" y1="176.8" x2="513.90" y2="194.6" stroke="#1a1a1a" stroke-width="0.9"/>
<rect x="512.95" y="181.4" width="1.9" height="9.3" fill="#0a9a5a" stroke="#1a1a1a" stroke-width="0.55"/>
<line x1="517.26" y1="180.0" x2="517.26" y2="195.0" stroke="#1a1a1a" stroke-width="0.9"/>
<rect x="516.31" y="181.0" width="1.9" height="9.7" fill="#a80c38" stroke="#1a1a1a" stroke-width="0.55"/>
<line x1="520.62" y1="189.5" x2="520.62" y2="193.6" stroke="#1a1a1a" stroke-width="0.9"/>
<rect x="519.67" y="190.3" width="1.9" height="1.0" fill="#0a9a5a" stroke="#1a1a1a" stroke-width="0.55"/>
<polyline points="2.8,123.0 6.2,121.8 9.5,120.3 12.9,118.6 16.2,119.4 19.6,119.0 23.0,121.0 26.3,123.0 29.7,123.3 33.1,123.2 36.4,123.5 39.8,123.5 43.1,123.7 46.5,123.6 49.9,123.7 53.2,123.5 56.6,123.6 60.0,123.5 63.3,123.5 66.7,123.2 70.0,122.8 73.4,121.8 76.8,121.2 80.1,121.6 83.5,123.4 86.9,123.9 90.2,124.6 93.6,124.3 96.9,123.1 100.3,122.2 103.7,120.8 107.0,118.9 110.4,114.6 113.8,106.5 117.1,95.4 120.5,91.8 123.8,87.5 127.2,81.7 130.6,76.5 133.9,70.7 137.3,67.0 140.7,65.6 144.0,64.7 147.4,66.3 150.8,66.0 154.1,67.3 157.5,69.0 160.8,70.6 164.2,71.7 167.6,71.5 170.9,72.8 174.3,75.5 177.7,84.7 181.0,88.7 184.4,90.4 187.7,91.9 191.1,94.1 194.5,97.1 197.8,102.6 201.2,106.7 204.6,107.7 207.9,105.9 211.3,105.3 214.6,105.4 218.0,104.1 221.4,106.7 224.7,107.1 228.1,108.5 231.4,111.0 234.8,114.0 238.2,115.1 241.5,116.3 244.9,120.2 248.3,128.3 251.6,135.2 255.0,141.8 258.3,153.2 261.7,161.8 265.1,164.8 268.4,170.7 271.8,169.7 275.2,166.8 278.5,173.1 281.9,173.7 285.2,175.0 288.6,169.7 292.0,169.8 295.3,170.2 298.7,171.8 302.1,176.4 305.4,181.3 308.8,187.7 312.1,188.1 315.5,187.7 318.9,188.0 322.2,190.0 325.6,190.7 329.0,187.8 332.3,189.2 335.7,189.6 339.1,194.4 342.4,199.9 345.8,206.3 349.1,212.2 352.5,218.8 355.9,222.9 359.2,232.2 362.6,237.2 365.9,241.9 369.3,243.6 372.7,257.8 376.0,281.5 379.4,298.5 382.8,310.1 386.1,315.6 389.5,320.5 392.8,317.7 396.2,309.4 399.6,302.6 402.9,290.5 406.3,291.8 409.7,275.6 413.0,269.2 416.4,267.1 419.8,263.5 423.1,263.9 426.5,264.1 429.8,263.4 433.2,265.0 436.6,277.8 439.9,283.2 443.3,286.0 446.6,270.0 450.0,262.7 453.4,263.5 456.7,262.1 460.1,252.5 463.5,236.5 466.8,223.3 470.2,204.5 473.6,194.9 476.9,201.9 480.3,202.6 483.6,205.8 487.0,216.4 490.4,223.8 493.7,227.5 497.1,226.0 500.4,222.3 503.8,216.0 507.2,213.6 510.5,205.9 513.9,197.8 517.3,195.4 520.6,193.7" fill="none" stroke="#111" stroke-width="0.9"/>
</g>
<rect x="2" y="38.2" width="660" height="1.7" fill="#858585"/>
<rect x="2" y="38" width="1" height="446" fill="#555"/>
<rect x="661" y="38" width="1" height="446" fill="#444"/>
<rect x="2" y="483" width="660" height="1" fill="#333"/>
<rect x="2" y="371.5" width="659" height="2" fill="#777"/>
<line x1="662" y1="48" x2="664.2" y2="48" stroke="#333" stroke-width="1"/>
<text x="665.90" y="50.9" font-family="'Liberation Sans', sans-serif" font-size="8.6" fill="#1e1e1e" stroke="#1e1e1e" stroke-width="0.12" textLength="28.51" lengthAdjust="spacingAndGlyphs" >112.490</text>
<line x1="662" y1="74.5" x2="664.2" y2="74.5" stroke="#333" stroke-width="1"/>
<text x="665.90" y="77.4" font-family="'Liberation Sans', sans-serif" font-size="8.6" fill="#1e1e1e" stroke="#1e1e1e" stroke-width="0.12" textLength="28.51" lengthAdjust="spacingAndGlyphs" >111.540</text>
<line x1="662" y1="128" x2="664.2" y2="128" stroke="#333" stroke-width="1"/>
<text x="665.90" y="130.9" font-family="'Liberation Sans', sans-serif" font-size="8.6" fill="#1e1e1e" stroke="#1e1e1e" stroke-width="0.12" textLength="28.53" lengthAdjust="spacingAndGlyphs" >109.615</text>
<line x1="662" y1="181.5" x2="664.2" y2="181.5" stroke="#333" stroke-width="1"/>
<text x="665.90" y="184.4" font-family="'Liberation Sans', sans-serif" font-size="8.6" fill="#1e1e1e" stroke="#1e1e1e" stroke-width="0.12" textLength="28.51" lengthAdjust="spacingAndGlyphs" >107.690</text>
<line x1="662" y1="208" x2="664.2" y2="208" stroke="#333" stroke-width="1"/>
<text x="665.90" y="210.9" font-family="'Liberation Sans', sans-serif" font-size="8.6" fill="#1e1e1e" stroke="#1e1e1e" stroke-width="0.12" textLength="28.53" lengthAdjust="spacingAndGlyphs" >106.715</text>
<line x1="662" y1="262" x2="664.2" y2="262" stroke="#333" stroke-width="1"/>
<text x="665.90" y="264.9" font-family="'Liberation Sans', sans-serif" font-size="8.6" fill="#1e1e1e" stroke="#1e1e1e" stroke-width="0.12" textLength="28.53" lengthAdjust="spacingAndGlyphs" >104.815</text>
<line x1="662" y1="289" x2="664.2" y2="289" stroke="#333" stroke-width="1"/>
<text x="665.90" y="291.9" font-family="'Liberation Sans', sans-serif" font-size="8.6" fill="#1e1e1e" stroke="#1e1e1e" stroke-width="0.12" textLength="28.51" lengthAdjust="spacingAndGlyphs" >103.840</text>
<line x1="662" y1="316" x2="664.2" y2="316" stroke="#333" stroke-width="1"/>
<text x="665.90" y="318.9" font-family="'Liberation Sans', sans-serif" font-size="8.6" fill="#1e1e1e" stroke="#1e1e1e" stroke-width="0.12" textLength="28.51" lengthAdjust="spacingAndGlyphs" >102.890</text>
<line x1="662" y1="342.5" x2="664.2" y2="342.5" stroke="#333" stroke-width="1"/>
<text x="665.90" y="345.4" font-family="'Liberation Sans', sans-serif" font-size="8.6" fill="#1e1e1e" stroke="#1e1e1e" stroke-width="0.12" textLength="28.53" lengthAdjust="spacingAndGlyphs" >101.915</text>
<line x1="662" y1="369.5" x2="664.2" y2="369.5" stroke="#333" stroke-width="1"/>
<text x="665.90" y="372.4" font-family="'Liberation Sans', sans-serif" font-size="8.6" fill="#1e1e1e" stroke="#1e1e1e" stroke-width="0.12" textLength="28.53" lengthAdjust="spacingAndGlyphs" >100.965</text>
<rect x="663" y="97.0" width="34" height="9" fill="#0000f0"/>
<text x="665.90" y="104.4" font-family="'Liberation Sans', sans-serif" font-size="8.6" fill="#ffffff" stroke="#ffffff" stroke-width="0.12" textLength="28.55" lengthAdjust="spacingAndGlyphs" >110.543</text>
<rect x="663" y="151.5" width="34" height="9" fill="#0000f0"/>
<text x="665.90" y="158.9" font-family="'Liberation Sans', sans-serif" font-size="8.6" fill="#ffffff" stroke="#ffffff" stroke-width="0.12" textLength="28.60" lengthAdjust="spacingAndGlyphs" >108.582</text>
<rect x="663" y="186.0" width="34" height="9" fill="#000000"/>
<text x="665.90" y="193.4" font-family="'Liberation Sans', sans-serif" font-size="8.6" fill="#ffffff" stroke="#ffffff" stroke-width="0.12" textLength="28.53" lengthAdjust="spacingAndGlyphs" >107.365</text>
<rect x="663" y="232.5" width="34" height="9" fill="#0000f0"/>
<text x="665.90" y="239.9" font-family="'Liberation Sans', sans-serif" font-size="8.6" fill="#ffffff" stroke="#ffffff" stroke-width="0.12" textLength="28.59" lengthAdjust="spacingAndGlyphs" >105.701</text>
<rect x="663" y="305.5" width="34" height="9" fill="#0000f0"/>
<text x="665.90" y="312.9" font-family="'Liberation Sans', sans-serif" font-size="8.6" fill="#ffffff" stroke="#ffffff" stroke-width="0.12" textLength="28.54" lengthAdjust="spacingAndGlyphs" >103.088</text>
<path d="M5.2,44.3 L10.8,44.3 L8,47.9 Z" fill="#111"/>
<text x="15.10" y="48.6" font-family="'Liberation Sans', sans-serif" font-size="8.6" fill="#1e1e1e" stroke="#1e1e1e" stroke-width="0.12" textLength="43.13" lengthAdjust="spacingAndGlyphs" >USDJPY,H4</text>
<text x="62.91" y="48.6" font-family="'Liberation Sans', sans-serif" font-size="8.6" fill="#1e1e1e" stroke="#1e1e1e" stroke-width="0.12" textLength="27.96" lengthAdjust="spacingAndGlyphs" >107.359</text>
<text x="93.11" y="48.6" font-family="'Liberation Sans', sans-serif" font-size="8.6" fill="#1e1e1e" stroke="#1e1e1e" stroke-width="0.12" textLength="27.89" lengthAdjust="spacingAndGlyphs" >107.390</text>
<text x="123.41" y="48.6" font-family="'Liberation Sans', sans-serif" font-size="8.6" fill="#1e1e1e" stroke="#1e1e1e" stroke-width="0.12" textLength="27.81" lengthAdjust="spacingAndGlyphs" >107.264</text>
<text x="153.41" y="48.6" font-family="'Liberation Sans', sans-serif" font-size="8.6" fill="#1e1e1e" stroke="#1e1e1e" stroke-width="0.12" textLength="27.91" lengthAdjust="spacingAndGlyphs" >107.365</text>
<path d="M524,39 L532,39 L528,42.6 Z" fill="#5a6270"/>
<text x="5.24" y="384.4" font-family="'Liberation Sans', sans-serif" font-size="8.6" fill="#1e1e1e" stroke="#1e1e1e" stroke-width="0.12" textLength="55.76" lengthAdjust="spacingAndGlyphs" >MACD(12,26,9)</text>
<text x="63.58" y="384.4" font-family="'Liberation Sans', sans-serif" font-size="8.6" fill="#1e1e1e" stroke="#1e1e1e" stroke-width="0.12" textLength="24.96" lengthAdjust="spacingAndGlyphs" >0.5214</text>
<text x="89.79" y="384.4" font-family="'Liberation Sans', sans-serif" font-size="8.6" fill="#1e1e1e" stroke="#1e1e1e" stroke-width="0.12" textLength="24.46" lengthAdjust="spacingAndGlyphs" >0.4536</text>
<text x="115.60" y="384.4" font-family="'Liberation Sans', sans-serif" font-size="8.6" fill="#1e1e1e" stroke="#1e1e1e" stroke-width="0.12" textLength="23.64" lengthAdjust="spacingAndGlyphs" >0.0678</text>
<g clip-path="url(#cmacd)">
<rect x="22.42" y="411.0" width="1.1" height="0.9" fill="#2a9a2a"/>
<rect x="29.15" y="411.0" width="1.1" height="0.9" fill="#2a9a2a"/>
<rect x="35.88" y="411.0" width="1.1" height="0.9" fill="#2a9a2a"/>
<rect x="42.60" y="411.0" width="1.1" height="0.9" fill="#2a9a2a"/>
<rect x="49.32" y="411.0" width="1.1" height="0.9" fill="#2a9a2a"/>
<rect x="56.05" y="411.0" width="1.1" height="0.9" fill="#2a9a2a"/>
<rect x="62.77" y="411.0" width="1.1" height="0.9" fill="#2a9a2a"/>
<rect x="69.50" y="411.0" width="1.1" height="0.9" fill="#2a9a2a"/>
<rect x="76.22" y="411.0" width="1.1" height="0.9" fill="#2a9a2a"/>
<rect x="82.95" y="411.0" width="1.1" height="0.9" fill="#2a9a2a"/>
<rect x="89.67" y="411.0" width="1.1" height="0.9" fill="#2a9a2a"/>
<rect x="96.40" y="411.0" width="1.1" height="0.9" fill="#2a9a2a"/>
<rect x="103.12" y="411.0" width="1.1" height="0.9" fill="#2a9a2a"/>
<rect x="109.85" y="411.0" width="1.1" height="0.9" fill="#2a9a2a"/>
<rect x="113.21" y="406.8" width="1.1" height="4.2" fill="#2a9a2a"/>
<rect x="116.57" y="403.6" width="1.1" height="7.4" fill="#2a9a2a"/>
<rect x="119.94" y="403.5" width="1.1" height="7.5" fill="#2a9a2a"/>
<rect x="123.30" y="402.4" width="1.1" height="8.6" fill="#2a9a2a"/>
<rect x="126.66" y="401.6" width="1.1" height="9.4" fill="#2a9a2a"/>
<rect x="130.02" y="401.6" width="1.1" height="9.4" fill="#2a9a2a"/>
<rect x="133.39" y="401.6" width="1.1" height="9.4" fill="#2a9a2a"/>
<rect x="136.75" y="402.2" width="1.1" height="8.8" fill="#2a9a2a"/>
<rect x="140.11" y="403.5" width="1.1" height="7.5" fill="#2a9a2a"/>
<rect x="143.47" y="405.5" width="1.1" height="5.5" fill="#2a9a2a"/>
<rect x="146.84" y="407.5" width="1.1" height="3.5" fill="#2a9a2a"/>
<rect x="150.20" y="409.4" width="1.1" height="1.6" fill="#2a9a2a"/>
<rect x="153.56" y="410.2" width="1.1" height="0.8" fill="#2a9a2a"/>
<rect x="156.92" y="410.2" width="1.1" height="0.8" fill="#2a9a2a"/>
<rect x="160.29" y="411.0" width="1.1" height="0.9" fill="#2a9a2a"/>
<rect x="163.65" y="411.0" width="1.1" height="2.1" fill="#2a9a2a"/>
<rect x="167.01" y="411.0" width="1.1" height="2.8" fill="#2a9a2a"/>
<rect x="170.38" y="411.0" width="1.1" height="2.8" fill="#2a9a2a"/>
<rect x="173.74" y="411.0" width="1.1" height="3.9" fill="#2a9a2a"/>
<rect x="177.10" y="411.0" width="1.1" height="5.5" fill="#2a9a2a"/>
<rect x="180.46" y="411.0" width="1.1" height="6.6" fill="#2a9a2a"/>
<rect x="183.82" y="411.0" width="1.1" height="7.4" fill="#2a9a2a"/>
<rect x="187.19" y="411.0" width="1.1" height="7.6" fill="#2a9a2a"/>
<rect x="190.55" y="411.0" width="1.1" height="7.6" fill="#2a9a2a"/>
<rect x="193.91" y="411.0" width="1.1" height="7.6" fill="#2a9a2a"/>
<rect x="197.27" y="411.0" width="1.1" height="6.7" fill="#2a9a2a"/>
<rect x="200.64" y="411.0" width="1.1" height="5.1" fill="#2a9a2a"/>
<rect x="204.00" y="411.0" width="1.1" height="2.4" fill="#2a9a2a"/>
<rect x="207.36" y="411.0" width="1.1" height="1.7" fill="#2a9a2a"/>
<rect x="210.72" y="411.0" width="1.1" height="1.4" fill="#2a9a2a"/>
<rect x="214.09" y="411.0" width="1.1" height="1.0" fill="#2a9a2a"/>
<rect x="217.45" y="411.0" width="1.1" height="1.0" fill="#2a9a2a"/>
<rect x="220.81" y="411.0" width="1.1" height="1.0" fill="#2a9a2a"/>
<rect x="224.17" y="411.0" width="1.1" height="1.0" fill="#2a9a2a"/>
<rect x="227.54" y="411.0" width="1.1" height="1.0" fill="#2a9a2a"/>
<rect x="230.90" y="411.0" width="1.1" height="1.0" fill="#2a9a2a"/>
<rect x="234.26" y="411.0" width="1.1" height="1.0" fill="#2a9a2a"/>
<rect x="237.62" y="411.0" width="1.1" height="1.0" fill="#2a9a2a"/>
<rect x="240.99" y="411.0" width="1.1" height="1.6" fill="#2a9a2a"/>
<rect x="244.35" y="411.0" width="1.1" height="2.8" fill="#2a9a2a"/>
<rect x="247.71" y="411.0" width="1.1" height="4.0" fill="#2a9a2a"/>
<rect x="251.07" y="411.0" width="1.1" height="5.2" fill="#2a9a2a"/>
<rect x="254.44" y="411.0" width="1.1" height="6.3" fill="#2a9a2a"/>
<rect x="257.80" y="411.0" width="1.1" height="7.3" fill="#2a9a2a"/>
<rect x="261.16" y="411.0" width="1.1" height="8.4" fill="#2a9a2a"/>
<rect x="264.52" y="411.0" width="1.1" height="8.6" fill="#2a9a2a"/>
<rect x="267.89" y="411.0" width="1.1" height="8.5" fill="#2a9a2a"/>
<rect x="271.25" y="411.0" width="1.1" height="6.9" fill="#2a9a2a"/>
<rect x="274.61" y="411.0" width="1.1" height="5.4" fill="#2a9a2a"/>
<rect x="277.97" y="411.0" width="1.1" height="3.9" fill="#2a9a2a"/>
<rect x="281.34" y="411.0" width="1.1" height="2.4" fill="#2a9a2a"/>
<rect x="284.70" y="411.0" width="1.1" height="1.0" fill="#2a9a2a"/>
<rect x="288.06" y="410.2" width="1.1" height="0.8" fill="#2a9a2a"/>
<rect x="291.43" y="410.2" width="1.1" height="0.8" fill="#2a9a2a"/>
<rect x="294.79" y="410.2" width="1.1" height="0.8" fill="#2a9a2a"/>
<rect x="298.15" y="410.2" width="1.1" height="0.8" fill="#2a9a2a"/>
<rect x="301.51" y="410.2" width="1.1" height="0.8" fill="#2a9a2a"/>
<rect x="304.88" y="410.2" width="1.1" height="0.8" fill="#2a9a2a"/>
<rect x="308.24" y="410.2" width="1.1" height="0.8" fill="#2a9a2a"/>
<rect x="311.60" y="410.2" width="1.1" height="0.8" fill="#2a9a2a"/>
<rect x="314.96" y="409.8" width="1.1" height="1.2" fill="#2a9a2a"/>
<rect x="318.32" y="408.9" width="1.1" height="2.1" fill="#2a9a2a"/>
<rect x="321.69" y="408.1" width="1.1" height="2.9" fill="#2a9a2a"/>
<rect x="325.05" y="407.5" width="1.1" height="3.5" fill="#2a9a2a"/>
<rect x="328.41" y="407.5" width="1.1" height="3.5" fill="#2a9a2a"/>
<rect x="331.77" y="407.5" width="1.1" height="3.5" fill="#2a9a2a"/>
<rect x="335.14" y="408.3" width="1.1" height="2.7" fill="#2a9a2a"/>
<rect x="338.50" y="409.2" width="1.1" height="1.8" fill="#2a9a2a"/>
<rect x="341.86" y="410.2" width="1.1" height="0.8" fill="#2a9a2a"/>
<rect x="345.22" y="411.0" width="1.1" height="1.4" fill="#2a9a2a"/>
<rect x="348.59" y="411.0" width="1.1" height="2.5" fill="#2a9a2a"/>
<rect x="351.95" y="411.0" width="1.1" height="3.2" fill="#2a9a2a"/>
<rect x="355.31" y="411.0" width="1.1" height="4.0" fill="#2a9a2a"/>
<rect x="358.67" y="411.0" width="1.1" height="4.4" fill="#2a9a2a"/>
<rect x="362.04" y="411.0" width="1.1" height="4.7" fill="#2a9a2a"/>
<rect x="365.40" y="411.0" width="1.1" height="5.1" fill="#2a9a2a"/>
<rect x="368.76" y="411.0" width="1.1" height="5.6" fill="#2a9a2a"/>
<rect x="372.12" y="411.0" width="1.1" height="7.0" fill="#2a9a2a"/>
<rect x="375.49" y="411.0" width="1.1" height="10.5" fill="#2a9a2a"/>
<rect x="378.85" y="411.0" width="1.1" height="13.5" fill="#2a9a2a"/>
<rect x="382.21" y="411.0" width="1.1" height="14.9" fill="#2a9a2a"/>
<rect x="385.57" y="411.0" width="1.1" height="14.9" fill="#2a9a2a"/>
<rect x="388.94" y="411.0" width="1.1" height="12.3" fill="#2a9a2a"/>
<rect x="392.30" y="411.0" width="1.1" height="7.7" fill="#2a9a2a"/>
<rect x="395.66" y="411.0" width="1.1" height="2.7" fill="#2a9a2a"/>
<rect x="399.02" y="408.4" width="1.1" height="2.6" fill="#2a9a2a"/>
<rect x="402.39" y="404.3" width="1.1" height="6.7" fill="#2a9a2a"/>
<rect x="405.75" y="402.6" width="1.1" height="8.4" fill="#2a9a2a"/>
<rect x="409.11" y="397.9" width="1.1" height="13.1" fill="#2a9a2a"/>
<rect x="412.47" y="395.6" width="1.1" height="15.4" fill="#2a9a2a"/>
<rect x="415.84" y="394.7" width="1.1" height="16.3" fill="#2a9a2a"/>
<rect x="419.20" y="395.1" width="1.1" height="15.9" fill="#2a9a2a"/>
<rect x="422.56" y="397.1" width="1.1" height="13.9" fill="#2a9a2a"/>
<rect x="425.92" y="398.6" width="1.1" height="12.4" fill="#2a9a2a"/>
<rect x="429.29" y="400.4" width="1.1" height="10.6" fill="#2a9a2a"/>
<rect x="432.65" y="403.8" width="1.1" height="7.2" fill="#2a9a2a"/>
<rect x="436.01" y="406.5" width="1.1" height="4.5" fill="#2a9a2a"/>
<rect x="439.38" y="408.4" width="1.1" height="2.6" fill="#2a9a2a"/>
<rect x="442.74" y="407.0" width="1.1" height="4.0" fill="#2a9a2a"/>
<rect x="446.10" y="403.3" width="1.1" height="7.7" fill="#2a9a2a"/>
<rect x="449.46" y="402.5" width="1.1" height="8.5" fill="#2a9a2a"/>
<rect x="452.82" y="402.5" width="1.1" height="8.5" fill="#2a9a2a"/>
<rect x="456.19" y="402.5" width="1.1" height="8.5" fill="#2a9a2a"/>
<rect x="459.55" y="400.8" width="1.1" height="10.2" fill="#2a9a2a"/>
<rect x="462.91" y="396.9" width="1.1" height="14.1" fill="#2a9a2a"/>
<rect x="466.27" y="394.7" width="1.1" height="16.3" fill="#2a9a2a"/>
<rect x="469.64" y="390.2" width="1.1" height="20.8" fill="#2a9a2a"/>
<rect x="473.00" y="389.6" width="1.1" height="21.4" fill="#2a9a2a"/>
<rect x="476.36" y="394.6" width="1.1" height="16.4" fill="#2a9a2a"/>
<rect x="479.72" y="397.4" width="1.1" height="13.6" fill="#2a9a2a"/>
<rect x="483.09" y="401.3" width="1.1" height="9.7" fill="#2a9a2a"/>
<rect x="486.45" y="407.3" width="1.1" height="3.7" fill="#2a9a2a"/>
<rect x="489.81" y="410.0" width="1.1" height="1.0" fill="#2a9a2a"/>
<rect x="493.17" y="410.0" width="1.1" height="1.0" fill="#2a9a2a"/>
<rect x="496.54" y="410.2" width="1.1" height="0.8" fill="#2a9a2a"/>
<rect x="499.90" y="410.0" width="1.1" height="1.0" fill="#2a9a2a"/>
<rect x="503.26" y="410.2" width="1.1" height="0.8" fill="#2a9a2a"/>
<rect x="506.62" y="409.9" width="1.1" height="1.1" fill="#2a9a2a"/>
<rect x="509.99" y="408.9" width="1.1" height="2.1" fill="#2a9a2a"/>
<rect x="513.35" y="407.2" width="1.1" height="3.8" fill="#2a9a2a"/>
<rect x="516.71" y="407.1" width="1.1" height="3.9" fill="#2a9a2a"/>
<rect x="520.07" y="411.0" width="1.1" height="0.9" fill="#2a9a2a"/>
<polyline points="2.6,406.4 10.3,405.7 18.0,405.7 25.7,408.0 32.0,409.3 45.0,410.0 57.8,410.3 74.6,409.5 90.0,411.0 97.7,411.3 105.4,409.3 111.9,405.5 117.0,398.4 123.4,393.3 129.8,389.4 136.3,384.3 141.4,383.0 147.8,383.6 155.6,386.9 164.5,390.7 172.3,394.6 176.1,397.1 179.3,401.4 185.0,405.7 192.1,410.0 197.9,414.3 202.1,418.6 213.6,418.9 217.9,417.9 222.1,420.0 229.3,420.3 236.4,422.1 243.6,422.9 249.3,427.1 255.0,432.9 260.7,440.0 265.0,443.5 270.1,445.2 275.2,443.5 278.6,445.2 285.4,444.3 290.5,440.1 297.3,437.5 302.4,438.4 309.2,440.9 316.0,438.4 322.8,436.7 329.6,434.1 336.4,431.6 343.2,434.1 350.0,439.2 358.5,444.3 365.8,448.1 369.7,449.1 373.6,456.8 377.5,466.6 383.3,474.3 389.1,477.2 395.0,474.3 400.8,466.6 405.6,456.8 408.5,451.0 412.4,441.3 418.3,433.5 424.0,426.7 429.9,423.8 432.8,422.9 437.7,426.7 442.5,428.7 447.4,421.9 452.2,417.0 455.7,415.1 459.1,410.6 462.6,402.6 467.1,393.4 470.6,385.4 473.4,380.3 477.4,380.9 482.0,381.1 484.3,383.1 488.9,388.9 493.4,392.9 498.0,394.6 502.6,393.4 507.1,391.7 511.7,388.9 516.3,386.3 519.7,385.4" fill="none" stroke="#3030f0" stroke-width="1.1"/>
<polyline points="2.6,406.5 18.0,405.5 32.0,408.5 60.0,410.0 90.0,411.3 105.4,410.0 115.7,406.1 124.7,399.7 133.7,393.3 142.7,388.1 149.1,386.9 158.0,388.1 167.0,390.7 175.0,392.1 186.4,398.6 197.9,405.7 209.3,412.9 222.1,417.1 236.4,419.3 249.3,422.9 260.7,428.6 270.0,434.0 282.0,440.9 299.0,439.2 316.0,438.4 333.0,435.8 343.2,435.0 353.4,437.5 360.0,440.3 371.7,444.2 379.4,451.0 387.2,460.7 394.0,467.5 398.8,466.6 406.6,460.7 418.3,451.0 428.0,439.4 433.8,433.5 441.6,430.6 449.3,426.7 454.6,423.1 459.1,419.7 464.9,414.0 470.6,406.0 475.1,398.0 482.0,392.3 487.7,390.0 495.7,391.1 502.6,392.3 509.4,391.1 519.7,388.9" fill="none" stroke="#f03030" stroke-width="1.1" stroke-dasharray="3,2"/>
</g>
<text x="663.88" y="382.3" font-family="'Liberation Sans', sans-serif" font-size="8.6" fill="#1e1e1e" stroke="#1e1e1e" stroke-width="0.12" textLength="24.80" lengthAdjust="spacingAndGlyphs" >0.7609</text>
<text x="663.87" y="414.2" font-family="'Liberation Sans', sans-serif" font-size="8.6" fill="#1e1e1e" stroke="#1e1e1e" stroke-width="0.12" textLength="16.25" lengthAdjust="spacingAndGlyphs" >0.00</text>
<text x="663.83" y="480.5" font-family="'Liberation Sans', sans-serif" font-size="8.6" fill="#1e1e1e" stroke="#1e1e1e" stroke-width="0.12" textLength="28.03" lengthAdjust="spacingAndGlyphs" >-1.5336</text>
<line x1="662" y1="411" x2="664.2" y2="411" stroke="#333"/><line x1="662" y1="375.5" x2="664.2" y2="375.5" stroke="#333"/>
<line x1="3.5" y1="483" x2="3.5" y2="486.5" stroke="#333"/>
<text x="1.70" y="493.7" font-family="'Liberation Sans', sans-serif" font-size="8.6" fill="#1e1e1e" stroke="#1e1e1e" stroke-width="0.12" textLength="44.41" lengthAdjust="spacingAndGlyphs" >12 Feb 2020</text>
<line x1="56.5" y1="483" x2="56.5" y2="486.5" stroke="#333"/>
<text x="55.40" y="493.7" font-family="'Liberation Sans', sans-serif" font-size="8.6" fill="#1e1e1e" stroke="#1e1e1e" stroke-width="0.12" textLength="46.41" lengthAdjust="spacingAndGlyphs" >14 Feb 20:00</text>
<line x1="110.5" y1="483" x2="110.5" y2="486.5" stroke="#333"/>
<text x="109.09" y="493.7" font-family="'Liberation Sans', sans-serif" font-size="8.6" fill="#1e1e1e" stroke="#1e1e1e" stroke-width="0.12" textLength="47.02" lengthAdjust="spacingAndGlyphs" >19 Feb 08:00</text>
<line x1="164.5" y1="483" x2="164.5" y2="486.5" stroke="#333"/>
<text x="163.81" y="493.7" font-family="'Liberation Sans', sans-serif" font-size="8.6" fill="#1e1e1e" stroke="#1e1e1e" stroke-width="0.12" textLength="45.67" lengthAdjust="spacingAndGlyphs" >23 Feb 22:01</text>
<line x1="217.5" y1="483" x2="217.5" y2="486.5" stroke="#333"/>
<text x="216.50" y="493.7" font-family="'Liberation Sans', sans-serif" font-size="8.6" fill="#1e1e1e" stroke="#1e1e1e" stroke-width="0.12" textLength="46.61" lengthAdjust="spacingAndGlyphs" >26 Feb 12:00</text>
<line x1="271.5" y1="483" x2="271.5" y2="486.5" stroke="#333"/>
<text x="270.60" y="493.7" font-family="'Liberation Sans', sans-serif" font-size="8.6" fill="#1e1e1e" stroke="#1e1e1e" stroke-width="0.12" textLength="42.51" lengthAdjust="spacingAndGlyphs" >2 Mar 00:00</text>
<line x1="325.5" y1="483" x2="325.5" y2="486.5" stroke="#333"/>
<text x="324.50" y="493.7" font-family="'Liberation Sans', sans-serif" font-size="8.6" fill="#1e1e1e" stroke="#1e1e1e" stroke-width="0.12" textLength="46.14" lengthAdjust="spacingAndGlyphs" >4 Mar 16:00</text>
<line x1="378.5" y1="483" x2="378.5" y2="486.5" stroke="#333"/>
<text x="377.62" y="493.7" font-family="'Liberation Sans', sans-serif" font-size="8.6" fill="#1e1e1e" stroke="#1e1e1e" stroke-width="0.12" textLength="42.99" lengthAdjust="spacingAndGlyphs" >9 Mar 04:00</text>
<line x1="432.5" y1="483" x2="432.5" y2="486.5" stroke="#333"/>
<text x="431.49" y="493.7" font-family="'Liberation Sans', sans-serif" font-size="8.6" fill="#1e1e1e" stroke="#1e1e1e" stroke-width="0.12" textLength="47.12" lengthAdjust="spacingAndGlyphs" >11 Mar 20:00</text>
<line x1="486.5" y1="483" x2="486.5" y2="486.5" stroke="#333"/>
<text x="485.09" y="493.7" font-family="'Liberation Sans', sans-serif" font-size="8.6" fill="#1e1e1e" stroke="#1e1e1e" stroke-width="0.12" textLength="47.12" lengthAdjust="spacingAndGlyphs" >16 Mar 08:00</text>
</svg></body></html>
